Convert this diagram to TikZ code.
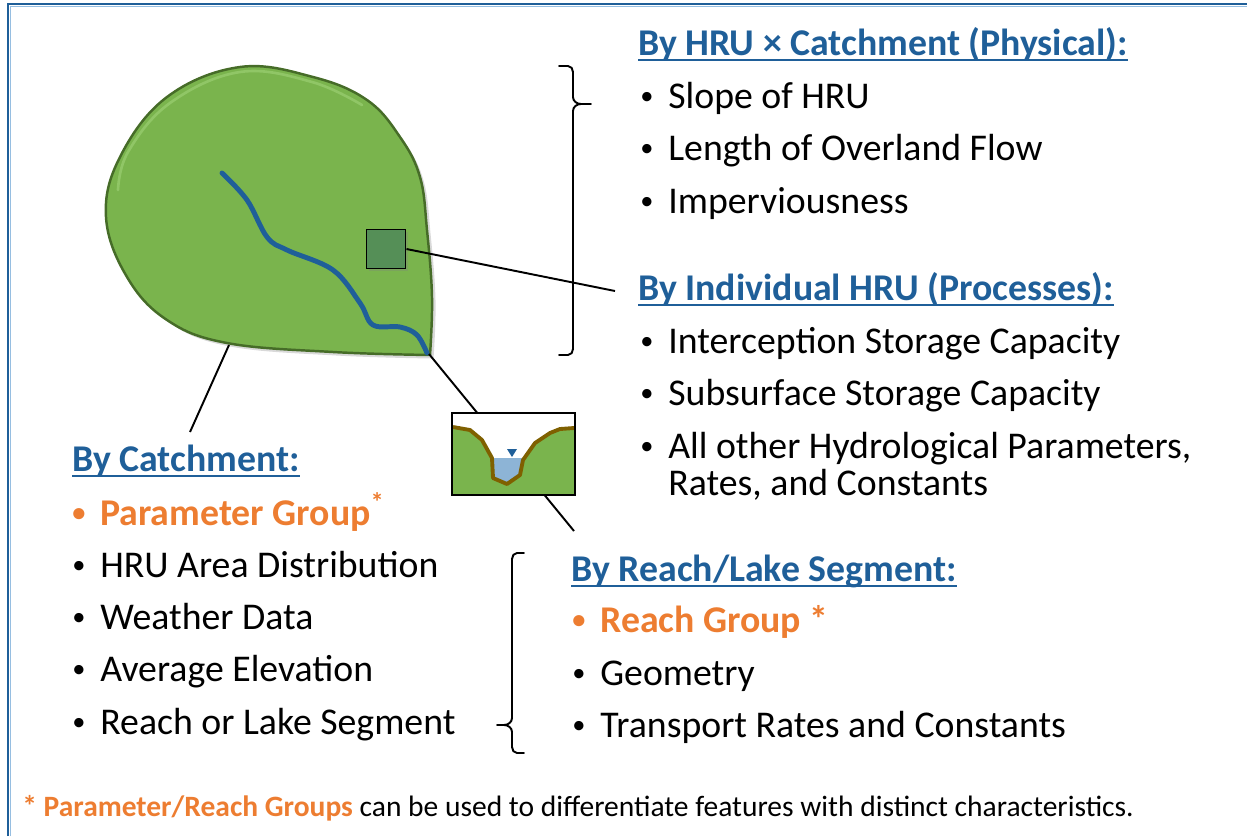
\documentclass[tikz,border=0pt]{standalone}
\usepackage{fontspec}
\setmainfont{Carlito}
\usetikzlibrary{shadows}

\definecolor{hdblue}{RGB}{31,95,153}
\definecolor{grporange}{RGB}{237,125,49}
\definecolor{landgreen}{RGB}{122,180,77}
\definecolor{landedge}{RGB}{70,108,40}
\definecolor{landrim}{RGB}{160,210,120}
\definecolor{hrugreen}{RGB}{85,143,87}
\definecolor{bankbrown}{RGB}{127,96,0}
\definecolor{waterblue}{RGB}{141,180,214}
\definecolor{framelight}{RGB}{150,190,225}

\newcommand{\bigfont}{\fontsize{21.5}{24}\selectfont}
\newcommand{\bul}{\makebox[0.56cm][l]{{\fontsize{15}{15}\selectfont\raisebox{1.8pt}{•}}}}

\tikzset{
  head/.style={anchor=base west, inner sep=0pt, text=hdblue, font=\bigfont\bfseries,
    append after command={([yshift=-3pt]\tikzlastnode.base west)
      edge[draw=hdblue, line width=1.1pt] ([yshift=-3pt]\tikzlastnode.base east)}},
  item/.style={anchor=base west, inner sep=0pt, font=\bigfont},
  group/.style={item, text=grporange, font=\bigfont\bfseries},
  leader/.style={black, line width=1.1pt},
  brace/.style={black, line width=1.1pt, line join=round, line cap=round},
  hrubox/.style={draw=black, line width=1.1pt, fill=hrugreen, minimum size=0.78cm,
    inner sep=0pt, drop shadow={shadow xshift=1.5pt, shadow yshift=-1.5pt, opacity=0.3}},
}

\begin{document}
\begin{tikzpicture}[x=0.02cm, y=-0.02cm]
  \useasboundingbox (0,0) rectangle (1247,836);

  % frame (top and left only)
  \draw[framelight, line width=0.6pt] (10.5,836) -- (10.5,6.5) -- (1247,6.5);
  \draw[hdblue, line width=1.7pt] (8,836) -- (8,4) -- (1247,4);

  % catchment
  \fill[landgreen, draw=landedge, line width=1.4pt,
    drop shadow={shadow xshift=2pt, shadow yshift=-2pt, opacity=0.3}]
    plot[smooth, tension=0.65] coordinates {(430,355) (432,297) (427,230) (420,177)
      (400,137) (367,100) (313,77) (240,67) (167,97) (120,157) (106,217)
      (127,277) (167,320) (227,343) (333,352) (430,355)} -- cycle;
  % light rim on top
  \draw[landrim, line width=1.5pt, opacity=0.6, line cap=round]
    plot[smooth, tension=0.65] coordinates {(118,190) (128,152) (170,103) (240,72) (312,82) (362,105)};

  % stream
  \draw[hdblue, line width=2.8pt, line cap=round, line join=round]
    plot[smooth, tension=0.6] coordinates {(222,173) (247,200) (267,237) (287,250)
      (333,270) (360,303) (373,325) (400,327) (417,335) (427,353)};

  \coordinate (outlet) at (429,354);
  \coordinate (reachtip) at (574,531);
  \coordinate (catchfoot) at (229,345);
  \coordinate (catchtip) at (190,432);
  \coordinate (hrutip) at (615,291);

  % HRU
  \node[hrubox] (hru) at (386,249) {};
  \draw[leader] (hru.east) -- (hrutip);
  \draw[leader] (catchfoot) -- (catchtip);
  \draw[leader] (outlet) -- (reachtip);

  % channel cross section
  \fill[white] (452,413) rectangle (575,495);
  \fill[waterblue] (488,458) rectangle (527,490);
  \fill[landgreen] (453,427) -- (470,430) -- (482,440) -- (492,458) -- (493,478)
    -- (507,484) -- (520,475) -- (523,460) -- (535,443) -- (550,433) -- (560,429)
    -- (574,428) -- (574,494) -- (453,494) -- cycle;
  \draw[bankbrown, line width=2.2pt, line join=round] (453,427) -- (470,430) -- (482,440)
    -- (492,458) -- (493,478) -- (507,484) -- (520,475) -- (523,460) -- (535,443)
    -- (550,433) -- (560,429) -- (574,428);
  \fill[hdblue] (507,449) -- (517,449) -- (512,457) -- cycle;
  \draw[black, line width=1.1pt] (452,413) rectangle (575,495);

  % braces
  \draw[brace] (559,66) -- (568,66) to[out=0,in=90] (573,72) -- (573,97)
    to[out=-90,in=180] (581,104) -- (591,104);
  \draw[brace] (581,104) to[out=180,in=90] (573,111) -- (573,349)
    to[out=-90,in=0] (568,355) -- (559,355);
  \draw[brace] (524,553) -- (517,553) to[out=180,in=90] (512,559) -- (512,718)
    to[out=-90,in=0] (504,725) -- (497,725);
  \draw[brace] (504,725) to[out=0,in=90] (512,732) -- (512,747)
    to[out=-90,in=180] (517,753) -- (524,753);

  % HRU x catchment
  \node[head] (physhead) at (638,55) {By HRU × Catchment (Physical):};
  \node[item] (slope) at (640,108) {\bul Slope of HRU};
  \node[item] (overland) at (640,160) {\bul Length of Overland Flow};
  \node[item] (imperv) at (640,213) {\bul Imperviousness};

  % individual HRU
  \node[head] (prochead) at (638,300) {By Individual HRU (Processes):};
  \node[item] (intercept) at (640,353) {\bul Interception Storage Capacity};
  \node[item] (subsurf) at (640,405) {\bul Subsurface Storage Capacity};
  \node[item] (allother) at (640,458) {\bul All other Hydrological Parameters,};
  \node[item] (rates) at (668,495) {Rates, and Constants};

  % catchment
  \node[head] (catchhead) at (72,471) {By Catchment:};
  \node[group] (paramgrp) at (72,525) {\bul Parameter Group\textsuperscript{*}};
  \node[item] (areadist) at (72,577) {\bul HRU Area Distribution};
  \node[item] (weather) at (72,629) {\bul Weather Data};
  \node[item] (elev) at (72,681) {\bul Average Elevation};
  \node[item] (segment) at (72,734) {\bul Reach or Lake Segment};

  % reach / lake
  \node[head] (reachhead) at (571,581) {By Reach/Lake Segment:};
  \node[group] (reachgrp) at (572,632) {\bul Reach Group *};
  \node[item] (geometry) at (572,685) {\bul Geometry};
  \node[item] (transport) at (572,737) {\bul Transport Rates and Constants};

  % footnote
  \node[anchor=base west, inner sep=0pt, font=\fontsize{16.8}{19}\selectfont] (note) at (22,816)
    {{\color{grporange}\bfseries * Parameter/Reach Groups} can be used to differentiate features with distinct characteristics.};
\end{tikzpicture}
\end{document}
